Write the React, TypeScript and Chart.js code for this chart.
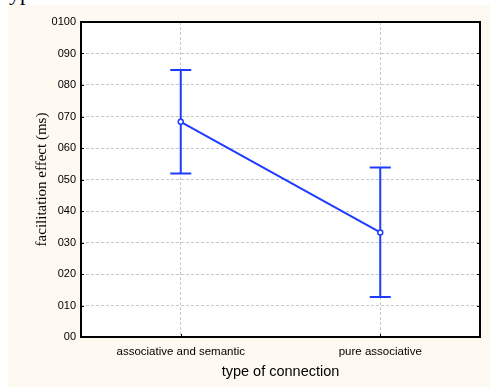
import React, { useEffect, useRef } from "react";
import { Chart, registerables } from "chart.js";

Chart.register(...registerables);

const categories = ["associative and semantic", "pure associative"];
const means = [68.3, 33.2];
const lowerBounds = [51.9, 12.7];
const upperBounds = [84.8, 53.8];
const yTickLabels: Record<number, string> = {
  0: "00", 10: "010", 20: "020", 30: "030", 40: "040", 50: "050",
  60: "060", 70: "070", 80: "080", 90: "090", 100: "0100",
};

const BLUE = "#1e3cff";

const framePlugin = {
  id: "frame",
  beforeDraw(chart: any) {
    const { ctx, chartArea: a } = chart;
    ctx.save();
    ctx.fillStyle = "#ffffff";
    ctx.fillRect(a.left, a.top, a.right - a.left, a.bottom - a.top);
    ctx.restore();
  },
  beforeDatasetsDraw(chart: any) {
    const { ctx } = chart;
    const x = chart.scales.x;
    const y = chart.scales.y;
    ctx.save();
    ctx.strokeStyle = BLUE;
    ctx.lineWidth = 2;
    for (let i = 0; i < categories.length; i++) {
      const px = x.getPixelForValue(i);
      const lo = y.getPixelForValue(lowerBounds[i]);
      const hi = y.getPixelForValue(upperBounds[i]);
      ctx.beginPath();
      ctx.moveTo(px, lo);
      ctx.lineTo(px, hi);
      ctx.moveTo(px - 10.5, lo);
      ctx.lineTo(px + 10.5, lo);
      ctx.moveTo(px - 10.5, hi);
      ctx.lineTo(px + 10.5, hi);
      ctx.stroke();
    }
    ctx.restore();
  },
  afterDraw(chart: any) {
    const { ctx, chartArea: a } = chart;
    const x = chart.scales.x;
    const y = chart.scales.y;
    ctx.save();
    ctx.strokeStyle = "#000";
    ctx.lineWidth = 1;
    ctx.beginPath();
    for (const v of Object.keys(yTickLabels).map(Number)) {
      const py = Math.round(y.getPixelForValue(v)) + 0.5;
      ctx.moveTo(a.left, py);
      ctx.lineTo(a.left + 3, py);
      ctx.moveTo(a.right - 3, py);
      ctx.lineTo(a.right, py);
    }
    for (let i = 0; i < categories.length; i++) {
      const px = Math.round(x.getPixelForValue(i)) + 0.5;
      ctx.moveTo(px, a.bottom);
      ctx.lineTo(px, a.bottom - 3);
    }
    ctx.stroke();
    ctx.lineWidth = 2;
    ctx.strokeRect(a.left, a.top, a.right - a.left, a.bottom - a.top);
    ctx.restore();
  },
};

export default function App() {
  const ref = useRef<HTMLCanvasElement>(null);
  useEffect(() => {
    if (!ref.current) return;
    const chart = new Chart(ref.current, {
      type: "line",
      data: {
        labels: categories,
        datasets: [
          {
            data: means,
            borderColor: BLUE,
            borderWidth: 2,
            pointRadius: 2.5,
            pointBackgroundColor: "#ffffff",
            pointBorderColor: BLUE,
            pointBorderWidth: 1.5,
            tension: 0,
          },
        ],
      },
      options: {
        animation: false,
        responsive: false,
        maintainAspectRatio: false,
        layout: { padding: { top: 17, right: 10, left: 0, bottom: 0 } },
        plugins: { legend: { display: false }, tooltip: { enabled: false } },
        scales: {
          x: {
            type: "category",
            offset: true,
            afterFit: (s: any) => { s.height = 50; },
            grid: { color: "#c8c8c8", lineWidth: 1, drawTicks: false },
            border: { display: false, dash: [3, 2] },
            ticks: {
              color: "#000",
              padding: 8,
              font: { family: "'Liberation Sans', Arial, sans-serif", size: 11.5 },
            },
            title: {
              display: true,
              text: "type of connection",
              color: "#000",
              padding: { top: 0, bottom: 6 },
              font: { family: "'Liberation Sans', Arial, sans-serif", size: 14.5 },
            },
          },
          y: {
            min: 0,
            max: 100,
            afterFit: (s: any) => { s.width = 73; },
            grid: { color: "#c8c8c8", lineWidth: 1, drawTicks: false },
            border: { display: false, dash: [3, 2] },
            ticks: {
              stepSize: 10,
              color: "#000",
              padding: 5,
              font: { family: "'Liberation Sans', Arial, sans-serif", size: 11 },
              callback: (v: any) => yTickLabels[Number(v)] ?? "",
            },
            title: {
              display: true,
              text: "facilitation effect (ms)",
              color: "#000",
              padding: { top: 25, bottom: 0 },
              font: { family: "'Liberation Serif', 'Times New Roman', serif", size: 15 },
            },
          },
        },
      },
      plugins: [framePlugin],
    });
    return () => chart.destroy();
  }, []);

  return (
    <div style={{ position: "fixed", left: 0, top: 0, width: 494, height: 387, background: "#fff", overflow: "hidden" }}>
      <div style={{ position: "absolute", left: 0, top: 0, width: 120, height: 5, overflow: "hidden" }}>
        <div style={{ position: "absolute", left: 3, top: -18, fontFamily: "'Liberation Serif', serif", fontSize: 22, lineHeight: "22px", color: "#000", whiteSpace: "nowrap" }}>typ</div>
      </div>
      <div style={{ position: "absolute", left: 8, top: 5, width: 482, height: 382, background: "#fef9f1" }}>
        <canvas ref={ref} width={482} height={382} style={{ display: "block", width: 482, height: 382 }} />
      </div>
    </div>
  );
}
